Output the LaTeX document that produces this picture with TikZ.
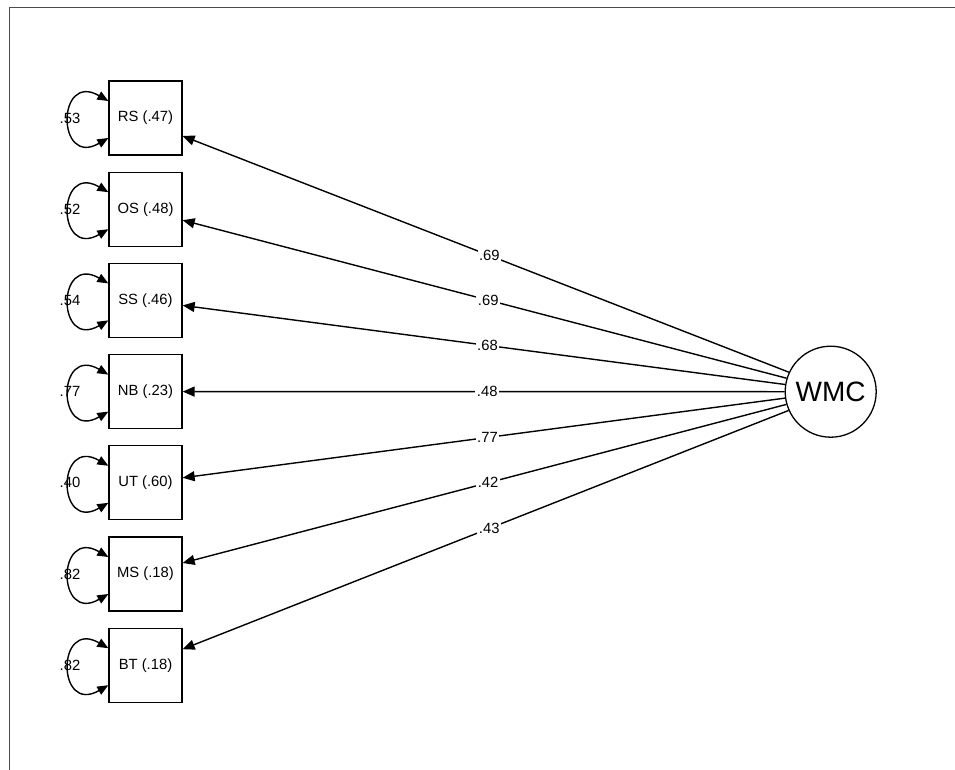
\documentclass[tikz,border=0pt]{standalone}
\usepackage{fontspec}
\setmainfont{Liberation Sans}
\usetikzlibrary{arrows.meta}
\begin{document}
\begin{tikzpicture}[x=1pt,y=-1pt,
  obs/.style={draw=black,line width=1.3pt,minimum width=73pt,minimum height=74pt,inner sep=0pt,font=\fontsize{14.8}{16}\selectfont},
  lat/.style={draw=black,line width=1.3pt,circle,minimum size=91pt,inner sep=0pt,font=\fontsize{28}{32}\selectfont},
  coef/.style={fill=white,inner sep=1.5pt,font=\fontsize{14.8}{16}\selectfont,pos=0.494},
  resid/.style={font=\fontsize{14.8}{16}\selectfont},
  path/.style={line width=1.4pt,-{Triangle[length=12pt,width=10pt]}},
  loop/.style={line width=1.4pt,{Triangle[length=11pt,width=9pt]}-{Triangle[length=11pt,width=9pt]}},
  frame/.style={draw=black!70,line width=1pt}]
\useasboundingbox (0,0) rectangle (955,770);
\fill[white] (0,0) rectangle (955,770);
\coordinate (ftl) at (9,8);
\coordinate (fbl) at (9,770);
\coordinate (ftr) at (955,8);
\draw[frame] (fbl) -- (ftl) -- (ftr);
\node[lat] (wmc) at (830.7,391.7) {WMC};
\foreach \nm/\lab/\res [count=\i from 0] in {RS/RS (.47)/.53, OS/OS (.48)/.52, SS/SS (.46)/.54, NB/NB (.23)/.77, UT/UT (.60)/.40, MS/MS (.18)/.82, BT/BT (.18)/.82}{
  \node[obs] (\nm) at (145.5,{118+\i*91.2}) {\lab};
}
\foreach \nm/\cf/\bo/\cy in {RS/.69/18/-19, OS/.69/11/-13, SS/.68/5/-7, NB/.48/0/0, UT/.77/-5/7, MS/.42/-11/13, BT/.43/-16/19}{
  \draw[path] (wmc.{180+asin(\cy/45.5)}) -- node[coef]{\cf} ([yshift=-\bo pt]\nm.east);
  \draw[loop] ([yshift=17pt]\nm.west) .. controls +(-52,-30) and +(-52,30) .. ([yshift=-20pt]\nm.west);
}
\foreach \nm/\res [count=\i from 0] in {RS/.53, OS/.52, SS/.54, NB/.77, UT/.40, MS/.82, BT/.82}{
  \node[resid] (r\nm) at (70,{118+\i*91.2}) {\res};
}
\end{tikzpicture}
\end{document}
